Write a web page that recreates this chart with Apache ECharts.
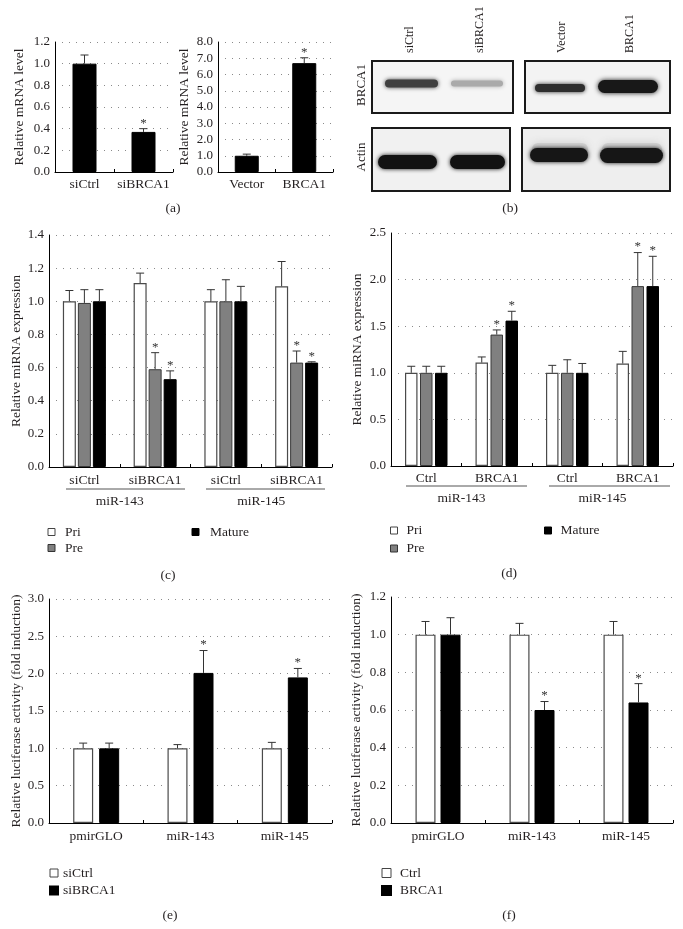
<!DOCTYPE html>
<html>
<head>
<meta charset="utf-8">
<script src="https://cdn.jsdelivr.net/npm/echarts@6/dist/echarts.min.js"></script>
<style>
html,body{margin:0;padding:0;background:#fff;}
#chart{width:683px;height:929px;}
</style>
</head>
<body>
<div id="chart"></div>
<script>
// ---------- DATA ----------
const aLeftCats = ['siCtrl', 'siBRCA1'];
const aLeftVals = [1.0, 0.37];
const aLeftErr  = [0.08, 0.03];
const aLeftSig  = [0, 1];

const aRightCats = ['Vector', 'BRCA1'];
const aRightVals = [1.0, 6.7];
const aRightErr  = [0.1, 0.33];
const aRightSig  = [0, 1];

const cCats   = ['siCtrl', 'siBRCA1', 'siCtrl', 'siBRCA1'];
const cGroups = ['miR-143', 'miR-145'];
const cPri       = [1.0, 1.11, 1.0, 1.09];
const cPriErr    = [0.065, 0.06, 0.07, 0.15];
const cPre       = [0.99, 0.59, 1.0, 0.63];
const cPreErr    = [0.08, 0.10, 0.13, 0.07];
const cPreSig    = [0, 1, 0, 1];
const cMature    = [1.0, 0.53, 1.0, 0.63];
const cMatureErr = [0.07, 0.05, 0.09, 0.005];
const cMatureSig = [0, 1, 0, 1];

const dCats   = ['Ctrl', 'BRCA1', 'Ctrl', 'BRCA1'];
const dGroups = ['miR-143', 'miR-145'];
const dPri       = [1.0, 1.11, 1.0, 1.10];
const dPriErr    = [0.07, 0.06, 0.08, 0.13];
const dPre       = [1.0, 1.41, 1.0, 1.93];
const dPreErr    = [0.07, 0.05, 0.14, 0.36];
const dPreSig    = [0, 1, 0, 1];
const dMature    = [1.0, 1.56, 1.0, 1.93];
const dMatureErr = [0.07, 0.10, 0.10, 0.32];
const dMatureSig = [0, 1, 0, 1];

const eCats = ['pmirGLO', 'miR-143', 'miR-145'];
const eSiCtrl     = [1.0, 1.0, 1.0];
const eSiCtrlErr  = [0.07, 0.05, 0.08];
const eSiBRCA1    = [1.0, 2.01, 1.95];
const eSiBRCA1Err = [0.07, 0.30, 0.12];
const eSiBRCA1Sig = [0, 1, 1];

const fCats = ['pmirGLO', 'miR-143', 'miR-145'];
const fCtrl     = [1.0, 1.0, 1.0];
const fCtrlErr  = [0.07, 0.06, 0.07];
const fBRCA1    = [1.0, 0.60, 0.64];
const fBRCA1Err = [0.09, 0.045, 0.10];
const fBRCA1Sig = [0, 1, 1];

// ---------- STYLE ----------
const FONT = 'Liberation Serif';
const TXT = '#231f20';
const WHITE = {color: '#ffffff', borderColor: '#4a4a4a', borderWidth: 1.2};
const GRAY  = {color: '#808080', borderColor: '#3a3a3a', borderWidth: 1};
const BLACK = {color: '#000000', borderColor: '#000000', borderWidth: 1};

function yAxis(grid, min, max, interval, name, gap) {
  return {
    type: 'value', gridIndex: grid, min: min, max: max, interval: interval,
    name: name, nameLocation: 'middle', nameGap: gap, nameRotate: 90,
    nameTextStyle: {fontFamily: FONT, fontSize: 13.5, color: TXT},
    axisLine: {show: true, lineStyle: {color: '#000', width: 1}},
    axisTick: {show: false},
    axisLabel: {fontFamily: FONT, fontSize: 13, color: TXT, margin: 5,
      formatter: v => v.toFixed(1)},
    splitLine: {show: true, lineStyle: {color: '#8a8a8a', width: 1, type: [1, 6]}}
  };
}
function xAxis(grid, cats, margin) {
  return {
    type: 'category', gridIndex: grid, data: cats, position: 'bottom',
    axisLine: {show: true, lineStyle: {color: '#000', width: 1}},
    axisTick: {show: true, inside: true, length: 3, lineStyle: {color: '#000'}},
    axisLabel: {fontFamily: FONT, fontSize: 13.5, color: TXT, margin: margin, interval: 0},
    splitLine: {show: false}
  };
}
function groupAxis(grid, cats, offset) {
  return {
    type: 'category', gridIndex: grid, data: cats, position: 'bottom', offset: offset,
    axisLine: {show: false}, axisTick: {show: false},
    axisLabel: {fontFamily: FONT, fontSize: 13.5, color: TXT, margin: 0, interval: 0},
    splitLine: {show: false}
  };
}
function bar(name, xi, yi, data, style, bw, gapPct) {
  return {
    type: 'bar', name: name, xAxisIndex: xi, yAxisIndex: yi, data: data,
    barWidth: bw, barGap: gapPct, itemStyle: style, silent: true, z: 2
  };
}
function errs(xi, yi, vals, es, sig, idx, n, bw, gap) {
  const data = vals.map((v, k) => [k, v, es[k], sig ? sig[k] : 0]);
  return {
    type: 'custom', xAxisIndex: xi, yAxisIndex: yi, data: data, z: 5, silent: true,
    encode: {x: 0, y: 1},
    renderItem: function (params, api) {
      const k = api.value(0), v = api.value(1), e = api.value(2), s = api.value(3);
      const base = api.coord([k, v]);
      const top = api.coord([k, v + e]);
      const x = base[0] + (idx - (n - 1) / 2) * (bw + gap);
      const st = {stroke: '#333', lineWidth: 1};
      const ch = [
        {type: 'line', shape: {x1: x, y1: base[1], x2: x, y2: top[1]}, style: st},
        {type: 'line', shape: {x1: x - 4, y1: top[1], x2: x + 4, y2: top[1]}, style: st}
      ];
      if (s) {
        ch.push({type: 'text', style: {text: '*', x: x, y: top[1] + 1, align: 'center',
          verticalAlign: 'bottom', font: '13px "' + FONT + '"', fill: '#333'}});
      }
      return {type: 'group', children: ch};
    }
  };
}

// ---------- GRIDS ----------
const grids = [
  {left: 55,  top: 42,  width: 118, height: 130},  // a left
  {left: 218, top: 42,  width: 115, height: 130},  // a right
  {left: 49,  top: 235, width: 283, height: 232},  // c
  {left: 391, top: 233, width: 282, height: 233},  // d
  {left: 49,  top: 599, width: 283, height: 224},  // e
  {left: 391, top: 597, width: 282, height: 226}   // f
].map(g => Object.assign({outerBoundsMode: 'none', containLabel: false}, g));

const xAxes = [
  xAxis(0, aLeftCats, 5),      // 0
  xAxis(1, aRightCats, 5),     // 1
  xAxis(2, cCats, 6),          // 2
  groupAxis(2, cGroups, 27),   // 3
  xAxis(3, dCats, 5),          // 4
  groupAxis(3, dGroups, 25),   // 5
  xAxis(4, eCats, 6),          // 6
  xAxis(5, fCats, 6)           // 7
];
const yAxes = [
  yAxis(0, 0, 1.2, 0.2, 'Relative mRNA level', 29),
  yAxis(1, 0, 8, 1, 'Relative mRNA level', 27),
  yAxis(2, 0, 1.4, 0.2, 'Relative miRNA expression', 26),
  yAxis(3, 0, 2.5, 0.5, 'Relative miRNA expression', 27),
  yAxis(4, 0, 3, 0.5, 'Relative luciferase activity (fold induction)', 26),
  yAxis(5, 0, 1.2, 0.2, 'Relative luciferase activity (fold induction)', 28)
];

const series = [];
// (a)
series.push(bar('aL', 0, 0, aLeftVals, BLACK, 24, '30%'));
series.push(errs(0, 0, aLeftVals, aLeftErr, aLeftSig, 0, 1, 24, 0));
series.push(bar('aR', 1, 1, aRightVals, BLACK, 24, '30%'));
series.push(errs(1, 1, aRightVals, aRightErr, aRightSig, 0, 1, 24, 0));
// (c)
const cBW = 13, cGap = 2;
const cPct = (cGap / cBW * 100) + '%';
series.push(bar('Pri', 2, 2, cPri, WHITE, cBW, cPct));
series.push(bar('Pre', 2, 2, cPre, GRAY, cBW, cPct));
series.push(bar('Mature', 2, 2, cMature, BLACK, cBW, cPct));
series.push(errs(2, 2, cPri, cPriErr, null, 0, 3, cBW, cGap));
series.push(errs(2, 2, cPre, cPreErr, cPreSig, 1, 3, cBW, cGap));
series.push(errs(2, 2, cMature, cMatureErr, cMatureSig, 2, 3, cBW, cGap));
// (d)
const dBW = 12.5, dGap = 2.5;
const dPct = (dGap / dBW * 100) + '%';
series.push(bar('Pri', 4, 3, dPri, WHITE, dBW, dPct));
series.push(bar('Pre', 4, 3, dPre, GRAY, dBW, dPct));
series.push(bar('Mature', 4, 3, dMature, BLACK, dBW, dPct));
series.push(errs(4, 3, dPri, dPriErr, null, 0, 3, dBW, dGap));
series.push(errs(4, 3, dPre, dPreErr, dPreSig, 1, 3, dBW, dGap));
series.push(errs(4, 3, dMature, dMatureErr, dMatureSig, 2, 3, dBW, dGap));
// (e)
const eBW = 20, eGap = 6;
const ePct = (eGap / eBW * 100) + '%';
series.push(bar('siCtrl', 6, 4, eSiCtrl, WHITE, eBW, ePct));
series.push(bar('siBRCA1', 6, 4, eSiBRCA1, BLACK, eBW, ePct));
series.push(errs(6, 4, eSiCtrl, eSiCtrlErr, null, 0, 2, eBW, eGap));
series.push(errs(6, 4, eSiBRCA1, eSiBRCA1Err, eSiBRCA1Sig, 1, 2, eBW, eGap));
// (f)
const fBW = 20, fGap = 5;
const fPct = (fGap / fBW * 100) + '%';
series.push(bar('Ctrl', 7, 5, fCtrl, WHITE, fBW, fPct));
series.push(bar('BRCA1', 7, 5, fBRCA1, BLACK, fBW, fPct));
series.push(errs(7, 5, fCtrl, fCtrlErr, null, 0, 2, fBW, fGap));
series.push(errs(7, 5, fBRCA1, fBRCA1Err, fBRCA1Sig, 1, 2, fBW, fGap));

// ---------- LEGENDS ----------
function legend(items, left, top, size, gap, textPad) {
  return {
    show: true, orient: 'vertical', left: left, top: top, padding: 0,
    itemGap: gap, itemWidth: size, itemHeight: size, icon: 'rect',
    selectedMode: false,
    textStyle: {fontFamily: FONT, fontSize: 13.5, color: TXT, padding: [0, 0, 0, textPad]},
    data: items
  };
}
const liPri = {name: 'Pri', itemStyle: {color: '#fff', borderColor: '#444', borderWidth: 1}};
const liPre = {name: 'Pre', itemStyle: {color: '#808080', borderColor: '#333', borderWidth: 1}};
const liMat = {name: 'Mature', itemStyle: {color: '#000', borderColor: '#000', borderWidth: 1}};
const legends = [
  legend([liPri, liPre], 47.5, 525, 7, 2, 5),
  legend([liMat], 191.5, 525, 7, 2, 6),
  legend([liPri, liPre], 390, 523.5, 7, 4, 4),
  legend([liMat], 544, 523.5, 7, 2, 4),
  legend([{name: 'siCtrl', itemStyle: {color: '#fff', borderColor: '#444', borderWidth: 1}},
          {name: 'siBRCA1', itemStyle: {color: '#000'}}], 49, 866, 8, 3.5, 0),
  legend([{name: 'Ctrl', itemStyle: {color: '#fff', borderColor: '#444', borderWidth: 1}},
          {name: 'BRCA1', itemStyle: {color: '#000'}}], 381, 866, 9, 3.5, 4)
];

// ---------- GRAPHICS: panel labels, group underlines, western blot ----------
function label(t, x, y) {
  return {type: 'text', x: x, y: y, style: {text: t, align: 'center', verticalAlign: 'middle',
    font: '13.5px "' + FONT + '"', fill: TXT}};
}
function hline(x1, x2, y) {
  return {type: 'line', shape: {x1: x1, y1: y, x2: x2, y2: y}, style: {stroke: '#555', lineWidth: 1}};
}
function box(x, y, w, h, fill) {
  return {type: 'rect', shape: {x: x, y: y, width: w, height: h},
    style: {fill: fill, stroke: '#1a1a1a', lineWidth: 2}};
}
function band(x, y, w, h, fill, blur) {
  return {type: 'rect', shape: {x: x, y: y, width: w, height: h, r: h / 2},
    style: {fill: fill, shadowBlur: blur, shadowColor: fill}};
}
function vtext(t, x, y, align, size) {
  return {type: 'text', x: x, y: y, rotation: Math.PI / 2,
    style: {text: t, align: align, verticalAlign: 'middle', font: size + 'px "' + FONT + '"', fill: TXT}};
}
const graphics = [
  label('(a)', 173, 208), label('(b)', 510, 208),
  label('(c)', 168, 575), label('(d)', 509, 573),
  label('(e)', 170, 915), label('(f)', 509, 915),
  hline(66, 185, 489), hline(206, 325, 489),
  hline(406, 527, 486), hline(549, 670, 486),
  // blot boxes
  box(372, 61, 141, 52, '#f5f5f5'),
  box(525, 61, 145, 52, '#f3f3f3'),
  box(372, 128, 138, 63, '#f1f1f1'),
  box(522, 128, 148, 63, '#eeeeee'),
  // BRCA1 bands
  band(385, 79.5, 53, 8, '#404040', 4),
  band(451, 80.5, 52, 6, '#aaaaaa', 4),
  band(535, 84, 50, 8, '#2e2e2e', 4),
  band(598, 80, 60, 13, '#181818', 5),
  // actin halos + bands
  band(532, 143, 56, 12, '#d0d0d0', 8),
  band(602, 143, 60, 12, '#d0d0d0', 8),
  band(378, 155, 59, 14, '#121212', 4),
  band(450, 155, 55, 14, '#121212', 4),
  band(530, 148, 58, 14, '#161616', 4),
  band(600, 148, 63, 15, '#161616', 4),
  // lane & row labels
  vtext('siCtrl', 410, 53, 'left', 12),
  vtext('siBRCA1', 480, 53, 'left', 12),
  vtext('Vector', 562, 53, 'left', 12),
  vtext('BRCA1', 630, 53, 'left', 12),
  vtext('BRCA1', 362, 85, 'center', 13),
  vtext('Actin', 362, 157, 'center', 13)
];

const chart = echarts.init(document.getElementById('chart'), null, {renderer: 'canvas'});
chart.setOption({
  animation: false,
  backgroundColor: '#ffffff',
  textStyle: {fontFamily: FONT},
  grid: grids,
  xAxis: xAxes,
  yAxis: yAxes,
  legend: legends,
  series: series,
  graphic: graphics
});
</script>
</body>
</html>
